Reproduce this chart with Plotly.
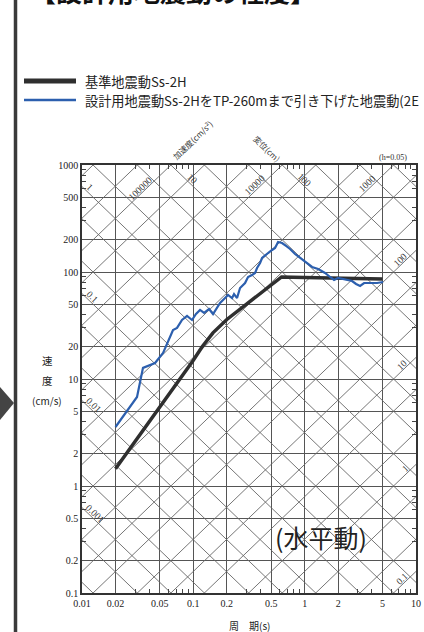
import numpy as np
import plotly.graph_objects as go

# ---------------- data ----------------
period_ss2h = [0.02, 0.03, 0.05, 0.07, 0.1, 0.12, 0.15, 0.2, 0.3, 0.4, 0.5, 0.62, 1, 2, 3, 5]
sv_ss2h = [1.45, 2.6, 5.5, 9.0, 15, 20, 27, 36, 50, 63, 76, 90, 89, 88, 87, 86]

period_tp260 = [0.020, 0.0259, 0.0312, 0.0353, 0.0453, 0.0535, 0.0593, 0.0657, 0.0714, 0.0791,
                0.0878, 0.0973, 0.1057, 0.1149, 0.1248, 0.1384, 0.1503, 0.160, 0.1738, 0.1927,
                0.205, 0.2227, 0.2321, 0.247, 0.2628, 0.2914, 0.3101, 0.3369, 0.3584, 0.3735,
                0.3975, 0.4143, 0.4407, 0.469, 0.5095, 0.542, 0.5768, 0.6264, 0.6806, 0.7393,
                0.8198, 0.9092, 1.008, 1.166, 1.32, 1.525, 1.691, 1.837, 1.995, 2.213,
                2.454, 2.666, 2.896, 3.147, 3.418, 3.87, 4.472, 5.06]
sv_tp260 = [3.56, 5.13, 6.79, 12.7, 14.1, 17.5, 22.2, 28.7, 30.0, 35.6,
            38.8, 35.6, 40.5, 44.2, 41.4, 45.1, 40.5, 45.1, 51.3, 57.1,
            61.0, 57.1, 62.3, 57.1, 70.9, 78.9, 89.8, 93.8, 97.9, 109.0,
            121.4, 135.1, 144.1, 150.5, 160.6, 167.6, 190.7, 186.6, 175.0, 164.1,
            147.3, 135.1, 124.0, 111.4, 106.7, 97.9, 89.8, 84.2, 87.9, 86.0,
            84.2, 82.4, 77.3, 74.0, 78.9, 78.9, 78.9, 80.6]

series_names = ["基準地震動Ss-2H", "設計用地震動Ss-2HをTP-260mまで引き下げた地震動(2E"]

x_ticks = [0.01, 0.02, 0.05, 0.1, 0.2, 0.5, 1, 2, 5, 10]
x_ticklabels = ["0.01", "0.02", "0.05", "0.1", "0.2", "0.5", "1", "2", "5", "10"]
y_ticks = [0.1, 0.2, 0.5, 1, 2, 5, 10, 20, 50, 100, 200, 500, 1000]
y_ticklabels = ["0.1", "0.2", "0.5", "1", "2", "5", "10", "20", "50", "100", "200", "500", "1000"]
x_minor = [m * 10.0 ** k for k in (-2, -1, 0) for m in (3, 4, 6, 7, 8, 9)]
y_minor = [m * 10.0 ** k for k in (-1, 0, 1, 2) for m in (3, 4, 6, 7, 8, 9)]

# tripartite diagonal grid values
accel_lines = [m * 10.0 ** k for k in range(-2, 7) for m in (1, 2, 5)]      # cm/s^2
disp_lines = [m * 10.0 ** k for k in range(-5, 4) for m in (1, 2, 5)]       # cm

accel_labels = ["100000", "10000", "1000", "100", "10", "1", "0.1"]
accel_label_values = [1e5, 1e4, 1e3, 100, 10, 1, 0.1]
accel_label_periods = [0.0332, 0.358, 3.64, 7.19, 7.5, 7.98, 7.5]
disp_labels = ["1", "0.1", "0.01", "0.001", "10", "100"]
disp_label_values = [1, 0.1, 0.01, 0.001, 10, 100]
disp_label_periods = [0.01156, 0.0123, 0.0126, 0.01309, 0.0974, 0.987]

# ---------------- layout geometry ----------------
W, H = 424, 632
ML, MR, MT, MB = 82, 8, 165, 39
PW, PH = W - ML - MR, H - MT - MB


def px(x):
    return (x - ML) / PW


def py(y):
    return (H - MB - y) / PH


TWO_PI = 2 * np.pi
T_range = [0.01, 10]
SERIF = "Liberation Serif, Times New Roman, serif"
CJK = "Noto Sans CJK JP"

fig = go.Figure()

# diagonal lines: constant acceleration (Sv = Sa*T/2pi)
ax_, ay_ = [], []
for a in accel_lines:
    ax_ += [T_range[0], T_range[1], None]
    ay_ += [a * T_range[0] / TWO_PI, a * T_range[1] / TWO_PI, None]
fig.add_trace(go.Scatter(x=ax_, y=ay_, mode="lines", line=dict(color="#666", width=0.9),
                         hoverinfo="skip", showlegend=False))
# constant displacement (Sv = 2pi*Sd/T)
dx_, dy_ = [], []
for d in disp_lines:
    dx_ += [T_range[0], T_range[1], None]
    dy_ += [TWO_PI * d / T_range[0], TWO_PI * d / T_range[1], None]
fig.add_trace(go.Scatter(x=dx_, y=dy_, mode="lines", line=dict(color="#666", width=0.9),
                         hoverinfo="skip", showlegend=False))

# spectra
fig.add_trace(go.Scatter(x=period_ss2h, y=sv_ss2h, mode="lines", name=series_names[0],
                         line=dict(color="#2f2f2f", width=3.5), showlegend=False))
fig.add_trace(go.Scatter(x=period_tp260, y=sv_tp260, mode="lines", name=series_names[1],
                         line=dict(color="#2c5fae", width=2.2), showlegend=False))

annotations = []
label_font = dict(family=SERIF, size=9.5, color="#333")
for txt, a, T in zip(accel_labels, accel_label_values, accel_label_periods):
    annotations.append(dict(x=np.log10(T), y=np.log10(a * T / TWO_PI), xref="x", yref="y",
                            text=txt, showarrow=False, textangle=-44, yshift=6,
                            xanchor="center", yanchor="middle", font=label_font))
for txt, d, T in zip(disp_labels, disp_label_values, disp_label_periods):
    annotations.append(dict(x=np.log10(T), y=np.log10(TWO_PI * d / T), xref="x", yref="y",
                            text=txt, showarrow=False, textangle=44, yshift=6,
                            xanchor="center", yanchor="middle", font=label_font))


def note(x, y, text, font, xanchor="center", yanchor="middle", angle=0):
    return dict(x=px(x), y=py(y), xref="paper", yref="paper", text=text, showarrow=False,
                xanchor=xanchor, yanchor=yanchor, textangle=angle, font=font)


annotations += [
    note(192, 140, "加速度(cm/s²)", dict(family=CJK, size=8, color="#333"), angle=-44),
    note(267, 148, "変位(cm)", dict(family=CJK, size=8, color="#333"), angle=44),
    note(393, 158, "(h=0.05)", dict(family=SERIF, size=8, color="#333")),
    note(321, 537, "(水平動)", dict(family=CJK, size=25, color="#222")),
    note(249, 625, "周　期(s)", dict(family=CJK, size=10, color="#222")),
    note(47, 360, "速", dict(family=CJK, size=10.5, color="#222")),
    note(47, 380, "度", dict(family=CJK, size=10.5, color="#222")),
    note(47, 400, "(cm/s)", dict(family=CJK, size=10, color="#222")),
    # legend texts
    note(83, 81, series_names[0], dict(family=CJK, size=13.2, color="#222"), xanchor="left"),
    note(83, 100, series_names[1], dict(family=CJK, size=13.2, color="#222"), xanchor="left"),
    # page title (cut off at the top edge, as in the source page)
    note(28, 11, "<b>【設計用地震動の程度】</b>", dict(family=CJK, size=26, color="#111"),
         xanchor="left", yanchor="bottom"),
]

shapes = [
    # legend samples
    dict(type="line", xref="paper", yref="paper", x0=px(24), x1=px(76), y0=py(81), y1=py(81),
         line=dict(color="#2f2f2f", width=5)),
    dict(type="line", xref="paper", yref="paper", x0=px(24), x1=px(76), y0=py(100), y1=py(100),
         line=dict(color="#2c5fae", width=2.5)),
    # page side bar and arrow
    dict(type="line", xref="paper", yref="paper", x0=px(15.5), x1=px(15.5), y0=py(0), y1=py(H),
         line=dict(color="#3a3a3a", width=3.5)),
    dict(type="path", xref="paper", yref="paper",
         path=f"M{px(0)},{py(387)} L{px(14)},{py(403)} L{px(0)},{py(420)} Z",
         fillcolor="#444", line=dict(width=0)),
]

axis_common = dict(
    type="log", showgrid=True, gridcolor="#555", gridwidth=1, zeroline=False,
    showline=True, linecolor="#333", linewidth=1.5, mirror="ticks", ticks="",
    tickfont=dict(family=SERIF, size=10, color="#222"),
)

fig.update_layout(
    width=W, height=H,
    margin=dict(l=ML, r=MR, t=MT, b=MB, autoexpand=False),
    paper_bgcolor="white", plot_bgcolor="white",
    showlegend=False,
    xaxis=dict(range=[-2, 1], tickmode="array", tickvals=x_ticks, ticktext=x_ticklabels,
               minor=dict(tickmode="array", tickvals=x_minor, ticks="inside", ticklen=4,
                          tickcolor="#444", tickwidth=1, showgrid=False),
               **axis_common),
    yaxis=dict(range=[-1, 3], tickmode="array", tickvals=y_ticks, ticktext=y_ticklabels,
               minor=dict(tickmode="array", tickvals=y_minor, ticks="inside", ticklen=4,
                          tickcolor="#444", tickwidth=1, showgrid=False),
               **axis_common),
    annotations=annotations,
    shapes=shapes,
)

fig.write_html("out.html", config={"displayModeBar": False})
